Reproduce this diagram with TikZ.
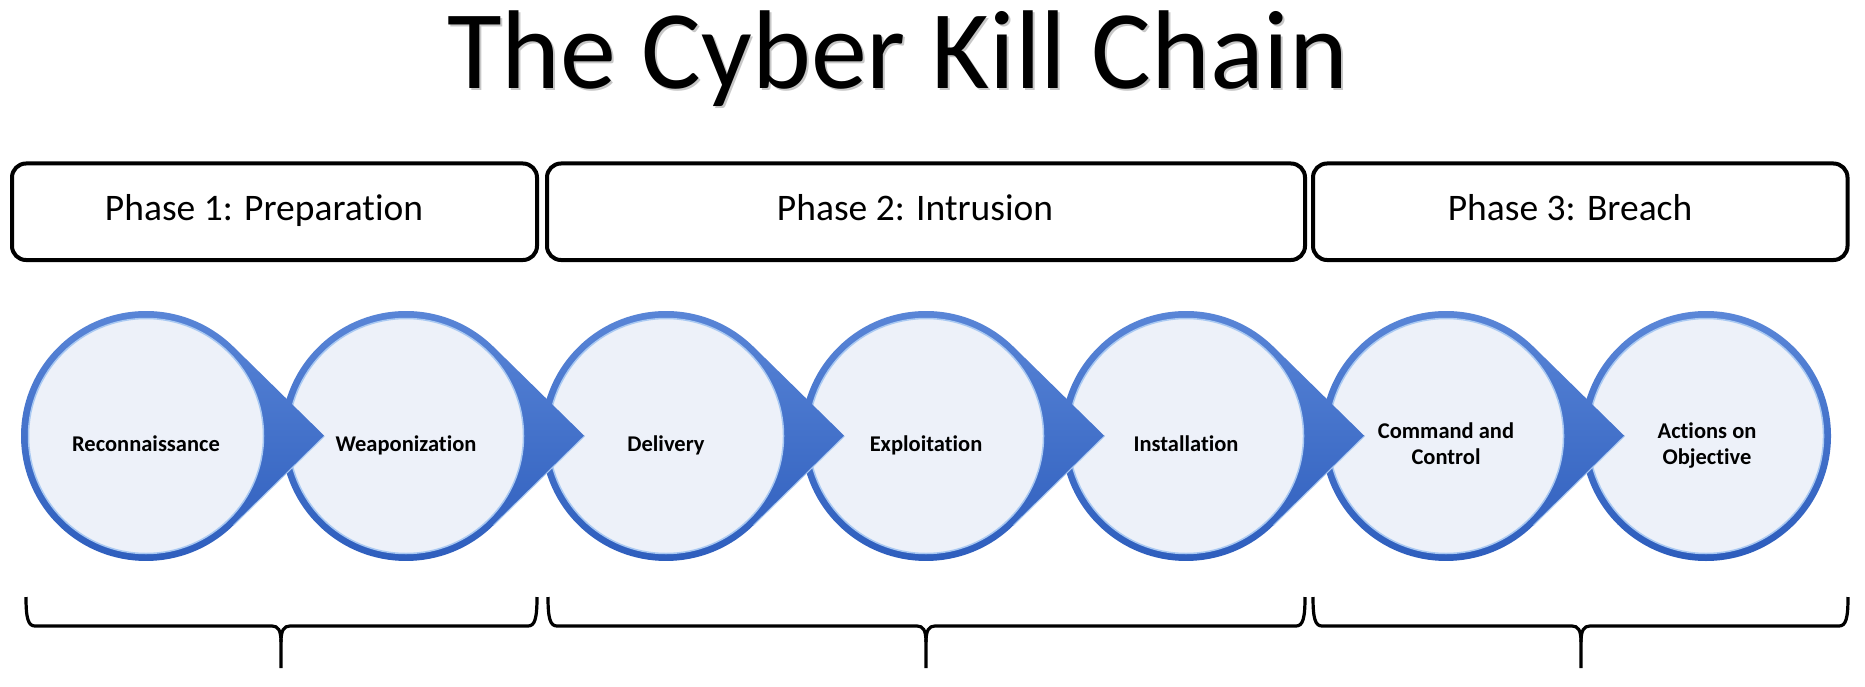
\documentclass[tikz,border=0pt]{standalone}
\usepackage{fontspec}
\setmainfont{Carlito}[Ligatures=NoCommon]
\definecolor{ringtop}{HTML}{5B87D8}
\definecolor{ringbot}{HTML}{2C5CBC}
\definecolor{innerfill}{HTML}{EDF1F9}
\definecolor{hilite}{HTML}{A9C9F2}
\tikzset{
  phasebox/.style={draw=black, line width=4pt, rounded corners=14pt, inner sep=0pt},
  phasetext/.style={font=\fontsize{37.5}{44}\selectfont, anchor=base, inner sep=0pt},
  steptext/.style={font=\bfseries\fontsize{22.5}{26}\selectfont, anchor=base, inner sep=0pt},
  titletext/.style={font=\fontsize{112}{120}\selectfont, anchor=base, inner sep=0pt},
  bracepath/.style={draw=black, line width=3.2pt, line join=round},
  ring/.style={top color=ringtop, bottom color=ringbot},
  innerdisc/.style={fill=innerfill, draw=hilite, line width=1.5pt},
}
\begin{document}
\begin{tikzpicture}[x=1pt,y=1pt]
\useasboundingbox (0,0) rectangle (1865,-687);
\fill[white] (0,0) rectangle (1865,-687);

% title
\node[titletext, text=black!22] (titleshadow) at (900,-91) {The Cyber Kill Chain};
\node[titletext] (title) at (898,-89) {The Cyber Kill Chain};

% phase boxes
\node[phasebox, minimum width=525pt, minimum height=96.5pt] (p1) at (274.5,-211.75) {};
\node[phasebox, minimum width=758pt, minimum height=96.5pt] (p2) at (926,-211.75) {};
\node[phasebox, minimum width=534.5pt, minimum height=96.5pt] (p3) at (1580.25,-211.75) {};
\node[phasetext] (t1) at (264,-221) {Phase 1: Preparation};
\node[phasetext] (t2) at (915,-221) {Phase 2: Intrusion};
\node[phasetext] (t3) at (1570,-221) {Phase 3: Breach};

% chain of circles, drawn from last to first so each arrow tip lies on the next circle
\foreach \i/\cx in {7/1706,6/1446,5/1186,4/926,3/666,2/406,1/146} {
  \ifnum\i<7
    \shade[ring] (\cx+178.5,-436) -- (\cx+87.54,-346.77)
      arc[start angle=45.55, end angle=314.45, radius=125] -- cycle;
    \draw[hilite, line width=1pt] (\cx+87.54,-525.23) -- (\cx+178.5,-436);
  \else
    \shade[ring] (\cx,-436) circle[radius=125];
  \fi
  \path[innerdisc] (\cx,-436) circle[radius=117.5];
}

% step labels
\node[steptext] (s1) at (146,-451) {Reconnaissance};
\node[steptext] (s2) at (406,-451) {Weaponization};
\node[steptext] (s3) at (666,-451) {Delivery};
\node[steptext] (s4) at (926,-451) {Exploitation};
\node[steptext] (s5) at (1186,-451) {Installation};
\node[steptext] (s6) at (1446,-464) {\begin{tabular}[b]{@{}c@{}}Command and\\Control\end{tabular}};
\node[steptext] (s7) at (1707,-464) {\begin{tabular}[b]{@{}c@{}}Actions on\\Objective\end{tabular}};

% braces
\foreach \xl/\xc/\xr in {26/281/537, 548/926/1305, 1313/1581/1848} {
  \draw[bracepath] (\xl,-597) .. controls (\xl,-618) and (\xl+2,-626) .. (\xl+9,-626)
    -- (\xc-9,-626) .. controls (\xc-3,-626) and (\xc,-630) .. (\xc,-642) -- (\xc,-668);
  \draw[bracepath] (\xc,-642) .. controls (\xc,-630) and (\xc+3,-626) .. (\xc+9,-626)
    -- (\xr-9,-626) .. controls (\xr-2,-626) and (\xr,-618) .. (\xr,-597);
}
\end{tikzpicture}
\end{document}
